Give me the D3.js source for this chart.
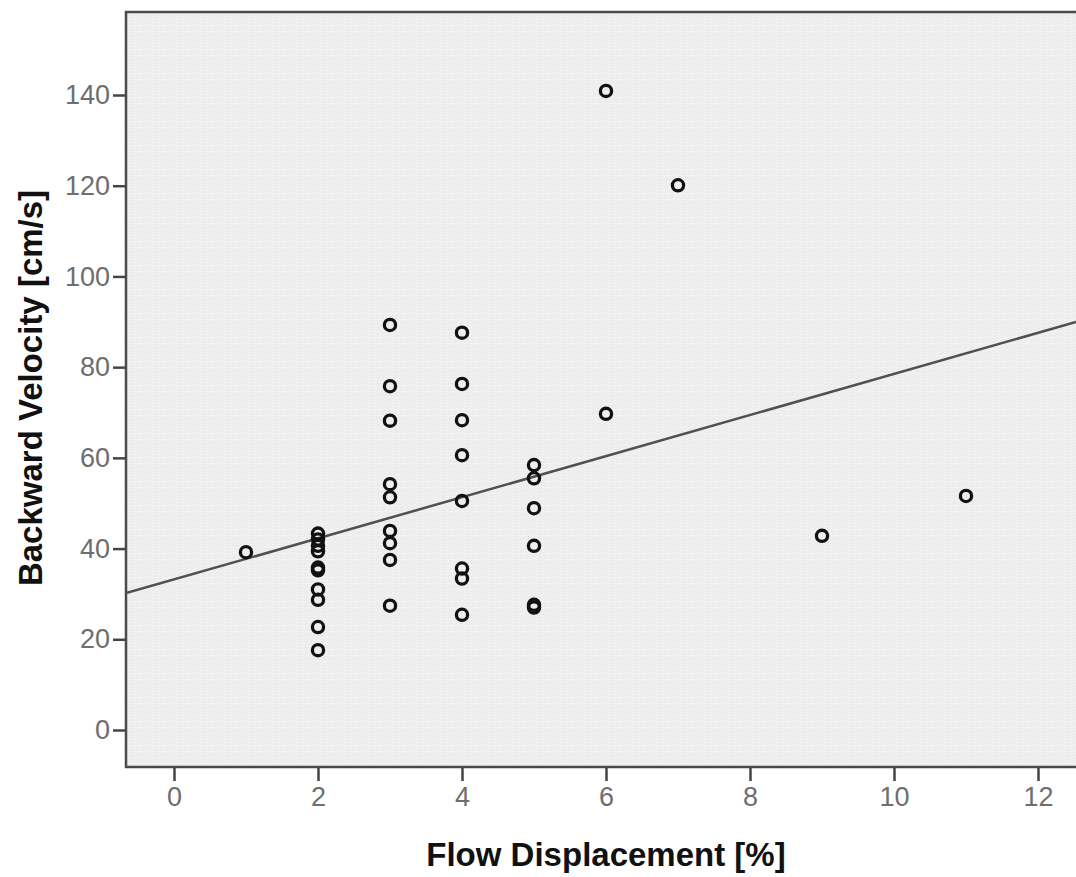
<!doctype html>
<html lang="en">
<head>
<meta charset="utf-8">
<title>Flow Displacement vs Backward Velocity</title>
<script src="https://d3js.org/d3.v7.min.js"></script>
<style>
  body { margin: 0; background: #fff; }
  .tick text { font-family: "Liberation Sans", Arial, sans-serif; font-size: 27px; fill: #6e6e6e; }
  .tick line { stroke: #444; stroke-width: 2.5px; }
  .axis-title { font-family: "Liberation Sans", Arial, sans-serif; font-size: 33px; font-weight: bold; fill: #111; }
</style>
</head>
<body>
<svg id="main" width="1076" height="877" xmlns="http://www.w3.org/2000/svg"></svg>
<script>
// flow displacement [%]
let flow = [1,
  2, 2, 2, 2, 2, 2, 2, 2, 2, 2,
  3, 3, 3, 3, 3, 3, 3, 3, 3,
  4, 4, 4, 4, 4, 4, 4, 4,
  5, 5, 5, 5, 5, 5,
  6, 6,
  7,
  9,
  11];
// backward velocity [cm/s]
let velocity = [39.2,
  43.3, 42.0, 40.6, 39.4, 35.8, 35.2, 31.0, 28.7, 22.7, 17.6,
  89.3, 75.8, 68.2, 54.2, 51.3, 43.9, 41.2, 37.5, 27.4,
  87.6, 76.3, 68.3, 60.6, 50.5, 35.6, 33.4, 25.4,
  58.4, 55.5, 48.9, 40.6, 27.6, 27.0,
  140.9, 69.7,
  120.1,
  42.8,
  51.6];
let xTicks = [0, 2, 4, 6, 8, 10, 12];
let yTicks = [0, 20, 40, 60, 80, 100, 120, 140];
// fit line: intercept, slope
let fit = [33.2, 4.53];

let svg = d3.select('#main');
let plot = {left: 126, top: 12, right: 1076, bottom: 767};

let x = d3.scaleLinear().domain([0, 12]).range([174, 1038]);
let y = d3.scaleLinear().domain([0, 140]).range([730, 95]);

// textured grey background
let defs = svg.append('defs');
let pat = defs.append('pattern').attr('id', 'tex')
    .attr('width', 6).attr('height', 6).attr('patternUnits', 'userSpaceOnUse');
pat.append('rect').attr('width', 6).attr('height', 6).attr('fill', '#ececec');
pat.append('path').attr('d', 'M0 1.5 Q1.5 0 3 1.5 T6 1.5 M1.5 3 Q3 6 4.5 4.5')
    .attr('fill', 'none').attr('stroke', '#f6f6f6').attr('stroke-width', 0.9);
defs.append('clipPath').attr('id', 'clip').append('rect')
    .attr('x', plot.left).attr('y', plot.top)
    .attr('width', plot.right - plot.left).attr('height', plot.bottom - plot.top);

svg.append('rect')
    .attr('x', plot.left).attr('y', plot.top)
    .attr('width', plot.right - plot.left).attr('height', plot.bottom - plot.top)
    .attr('fill', 'url(#tex)');

// axes
let yAxis = svg.append('g')
    .attr('transform', 'translate(' + plot.left + ',0)')
    .call(d3.axisLeft(y).tickValues(yTicks).tickSize(13).tickPadding(3).tickSizeOuter(0));
yAxis.select('.domain').remove();

let xAxis = svg.append('g')
    .attr('transform', 'translate(0,' + plot.bottom + ')')
    .call(d3.axisBottom(x).tickValues(xTicks).tickSize(14).tickPadding(6).tickSizeOuter(0));
xAxis.select('.domain').remove();

// frame
svg.append('path')
    .attr('d', 'M' + plot.right + ',' + plot.top + 'H' + plot.left + 'V' + plot.bottom + 'H' + plot.right)
    .attr('fill', 'none').attr('stroke', '#4a4a4a').attr('stroke-width', 2.5);

// regression line
let x0 = x.invert(plot.left), x1 = x.invert(plot.right);
svg.append('line')
    .attr('clip-path', 'url(#clip)')
    .attr('x1', x(x0)).attr('y1', y(fit[0] + fit[1] * x0))
    .attr('x2', x(x1)).attr('y2', y(fit[0] + fit[1] * x1))
    .attr('stroke', '#505050').attr('stroke-width', 2.5);

// points
svg.append('g').selectAll('circle')
    .data(d3.range(flow.length))
    .join('circle')
    .attr('cx', i => x(flow[i]))
    .attr('cy', i => y(velocity[i]))
    .attr('r', 5.6)
    .attr('fill', 'none')
    .attr('stroke', '#111')
    .attr('stroke-width', 3.3);

// titles
svg.append('text').attr('class', 'axis-title')
    .attr('x', 606).attr('y', 866)
    .attr('text-anchor', 'middle')
    .text('Flow Displacement [%]');

svg.append('text').attr('class', 'axis-title')
    .attr('transform', 'translate(42,388) rotate(-90)')
    .attr('text-anchor', 'middle')
    .text('Backward Velocity [cm/s]');
</script>
</body>
</html>
